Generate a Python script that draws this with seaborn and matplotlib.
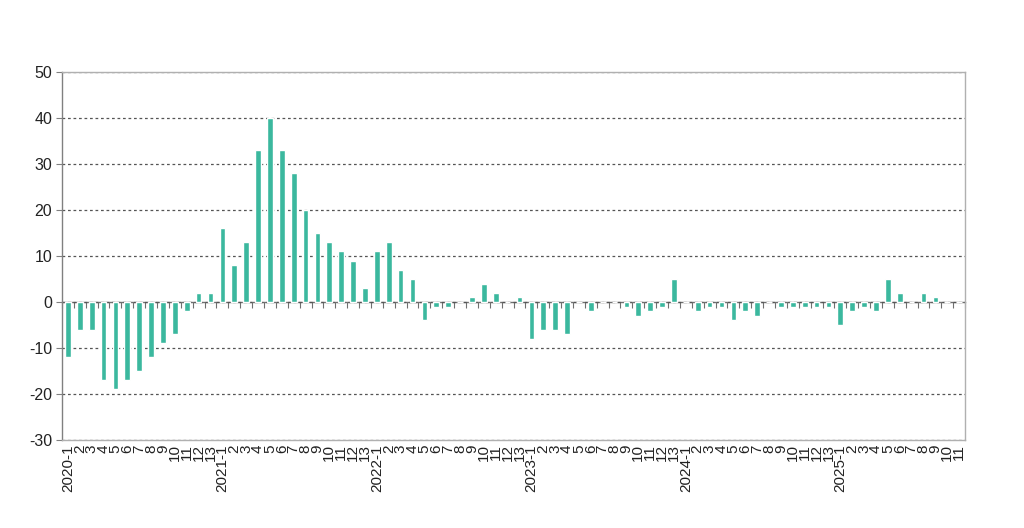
import numpy as np
import pandas as pd
import matplotlib
matplotlib.use("Agg")
import matplotlib.pyplot as plt
import seaborn as sns

# Four-week periods (13 per year)
years = [2020, 2021, 2022, 2023, 2024, 2025]
v2020 = [-12, -6, -6, -17, -19, -17, -15, -12, -9, -7, -2, 2, 2]
v2021 = [16, 8, 13, 33, 40, 33, 28, 20, 15, 13, 11, 9, 3]
v2022 = [11, 13, 7, 5, -4, -1, -1, 0, 1, 4, 2, 0, 1]
v2023 = [-8, -6, -6, -7, 0, -2, 0, 0, -1, -3, -2, -1, 5]
v2024 = [0, -2, -1, -1, -4, -2, -3, 0, -1, -1, -1, -1, -1]
v2025 = [-5, -2, -1, -2, 5, 2, 0, 2, 1, 0, 0]
yearly_values = [v2020, v2021, v2022, v2023, v2024, v2025]

y_ticks = [-30, -20, -10, 0, 10, 20, 30, 40, 50]

periods, labels, values = [], [], []
for yr, vals in zip(years, yearly_values):
    for p, v in enumerate(vals, start=1):
        periods.append(f"{yr}-{p}")
        labels.append(f"{yr}-{p}" if p == 1 else str(p))
        values.append(v)

df = pd.DataFrame({"period": periods, "value": values})
n = len(df)

sns.set_style("white")
plt.rcParams['font.family'] = ['Liberation Sans', 'DejaVu Sans']
plt.rcParams['axes.unicode_minus'] = False

fig = plt.figure(figsize=(10.24, 5.28), dpi=100)
ax = fig.add_axes([0.0605, 0.1667, 0.882, 0.697])

bar_color = "#3BB89E"
sns.barplot(data=df, x="period", y="value", order=periods, color=bar_color,
            saturation=1, width=0.48, ax=ax, zorder=3)

ax.set_xlim(-0.5, n - 0.5)
ax.set_ylim(y_ticks[0], y_ticks[-1])
ax.set_yticks(y_ticks)
ax.set_yticklabels([str(t) for t in y_ticks])
ax.set_xticks(range(n))
ax.set_xticklabels(labels, rotation=90, fontsize=11, color="#222222")
ax.tick_params(axis="x", length=0, pad=3)
ax.tick_params(axis="y", direction="out", length=4, color="#808080",
               labelsize=11.5, labelcolor="#222222", left=True, pad=3)
ax.set_xlabel("")
ax.set_ylabel("")

ax.yaxis.grid(True, linestyle=(0, (2.2, 2.2)), color="#555555", linewidth=0.9, zorder=1)
ax.set_axisbelow(True)

for side in ["top", "right", "bottom"]:
    ax.spines[side].set_color("#B0B0B0")
    ax.spines[side].set_linewidth(1.0)
ax.spines["left"].set_color("#808080")
ax.spines["left"].set_linewidth(1.0)

# zero axis line with category tick marks
zero_frac = (0 - y_ticks[0]) / (y_ticks[-1] - y_ticks[0])
sec = ax.secondary_xaxis(zero_frac)
sec.set_xticks(np.arange(n + 1) - 0.5)
sec.xaxis.set_ticks_position("bottom")
sec.tick_params(axis="x", direction="out", length=4, color="#707070",
                labelbottom=False, labeltop=False)
for s in sec.spines.values():
    s.set_visible(False)
sec.spines["bottom"].set_visible(True)
sec.spines["bottom"].set_color("#707070")
sec.spines["bottom"].set_linewidth(1.0)

fig.savefig("out.png", dpi=100, facecolor="white")
